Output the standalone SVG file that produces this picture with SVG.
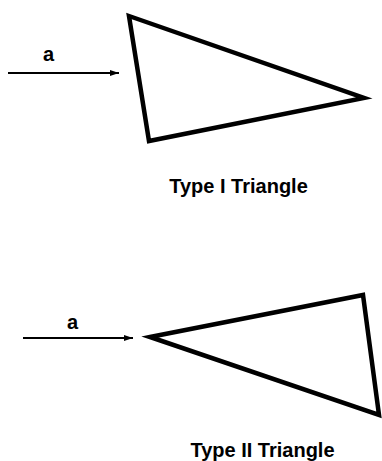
<svg xmlns="http://www.w3.org/2000/svg" width="382" height="461" viewBox="0 0 382 461">
<style>
.tri{fill:none;stroke:#000;stroke-width:4.5;stroke-linejoin:miter}
.conn{stroke:#000;stroke-width:2;fill:none}
.lbl{font-family:"Liberation Sans",Arial,sans-serif;font-weight:bold;font-size:20px;fill:#000}
.cap{font-family:"Liberation Sans",Arial,sans-serif;font-weight:bold;font-size:20px;fill:#000;text-anchor:middle}
</style>
<defs>
<marker id="ah" viewBox="0 0 10 10" refX="10" refY="5" markerWidth="4.5" markerHeight="3" markerUnits="strokeWidth" orient="auto" preserveAspectRatio="none">
<path d="M0,0 L10,5 L0,10 z" fill="#000"/>
</marker>
</defs>
<rect width="382" height="461" fill="#fff"/>
<g id="connectors">
<line class="conn" x1="8" y1="73" x2="119" y2="73" marker-end="url(#ah)"/>
<line class="conn" x1="23" y1="338" x2="133" y2="338" marker-end="url(#ah)"/>
</g>
<g id="label-a1"><text class="lbl" x="43" y="61">a</text></g>
<g id="label-a2"><text class="lbl" x="67" y="329">a</text></g>
<g id="triangle1">
<polygon class="tri" points="129,16 364,98 149,141"/>
<text class="cap" x="238.5" y="193">Type I Triangle</text>
</g>
<g id="triangle2">
<polygon class="tri" points="150,337 363,295 379,415"/>
<text class="cap" x="262.5" y="457">Type II Triangle</text>
</g>
</svg>
